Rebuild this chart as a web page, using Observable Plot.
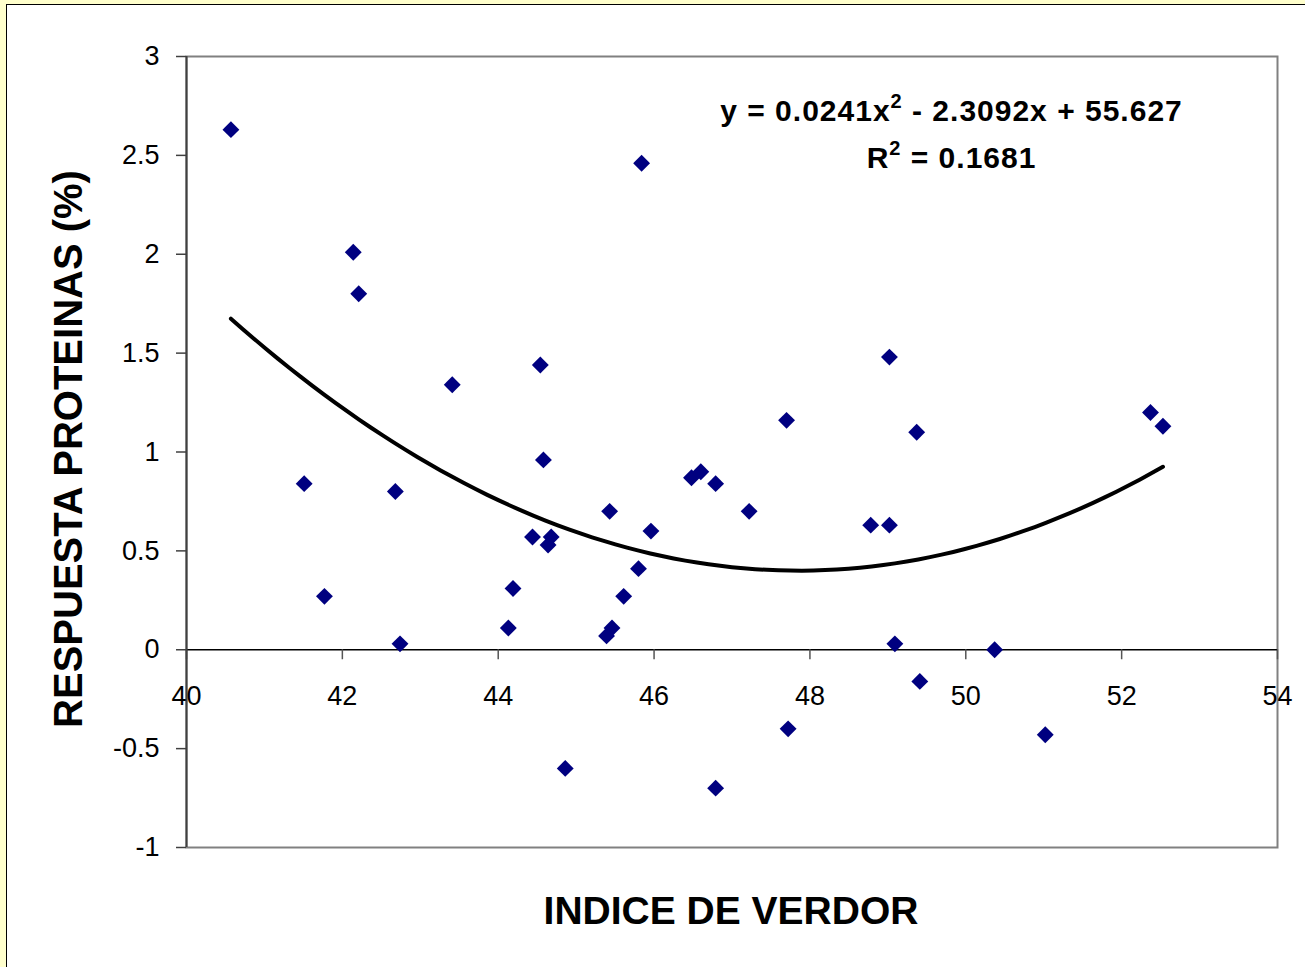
<!DOCTYPE html>
<html>
<head>
<meta charset="utf-8">
<script src="https://cdn.jsdelivr.net/npm/d3@7"></script>
<script src="https://cdn.jsdelivr.net/npm/@observablehq/plot@0.6"></script>
<style>
  html, body { margin: 0; padding: 0; background: #ffffcc; }
  #chart {
    position: absolute; left: 6px; top: 4px;
    width: 1299px; height: 963px;
    background: #ffffff;
    border-left: 1px solid #000; border-top: 1px solid #000;
  }
  #chart svg { display: block; }
</style>
</head>
<body>
<div id="chart"></div>
<script>
// Índice de verdor (x) vs. respuesta en proteínas (%) (y)
const indice = [40.57, 41.51, 41.77, 42.14, 42.21, 42.68, 42.74, 43.41, 44.13, 44.19,
                44.44, 44.54, 44.58, 44.64, 44.68, 44.86, 45.39, 45.43, 45.46, 45.61,
                45.80, 45.84, 45.96, 46.48, 46.60, 46.79, 46.79, 47.22, 47.70, 47.72,
                48.78, 49.02, 49.02, 49.09, 49.37, 49.41, 50.37, 51.02, 52.37, 52.53];
const respuesta = [2.63, 0.84, 0.27, 2.01, 1.80, 0.80, 0.03, 1.34, 0.11, 0.31,
                   0.57, 1.44, 0.96, 0.53, 0.57, -0.60, 0.07, 0.70, 0.11, 0.27,
                   0.41, 2.46, 0.60, 0.87, 0.90, 0.84, -0.70, 0.70, 1.16, -0.40,
                   0.63, 1.48, 0.63, 0.03, 1.10, -0.16, 0.00, -0.43, 1.20, 1.13];

const xTicks = [40, 42, 44, 46, 48, 50, 52, 54];
const yTicks = [-1, -0.5, 0, 0.5, 1, 1.5, 2, 2.5, 3];
const yTickLabels = ["-1", "-0.5", "0", "0.5", "1", "1.5", "2", "2.5", "3"];

const xTitle = "INDICE DE VERDOR";
const yTitle = "RESPUESTA PROTEINAS (%)";
// Trend-line annotation: each line split into [before, superscript, after]
const eqParts = [
  ["y = 0.0241x", "2", " - 2.3092x + 55.627"],
  ["R", "2", " = 0.1681"]
];

const points = indice.map((x, i) => ({x, y: respuesta[i]}));

// Least-squares polynomial (order 2) trend line, fitted on centred x
function quadFit(xs, ys) {
  const mx = d3.mean(xs);
  const s = [0, 0, 0, 0, 0], t = [0, 0, 0];
  xs.forEach((x, i) => {
    const u = x - mx;
    let p = 1;
    for (let k = 0; k < 5; k++) { s[k] += p; if (k < 3) t[k] += ys[i] * p; p *= u; }
  });
  const A = [[s[0], s[1], s[2], t[0]], [s[1], s[2], s[3], t[1]], [s[2], s[3], s[4], t[2]]];
  for (let c = 0; c < 3; c++) {
    for (let r = c + 1; r < 3; r++) {
      const f = A[r][c] / A[c][c];
      for (let k = c; k < 4; k++) A[r][k] -= f * A[c][k];
    }
  }
  const b = [0, 0, 0];
  for (let r = 2; r >= 0; r--) {
    let v = A[r][3];
    for (let k = r + 1; k < 3; k++) v -= A[r][k] * b[k];
    b[r] = v / A[r][r];
  }
  return x => { const u = x - mx; return b[0] + b[1] * u + b[2] * u * u; };
}
const trend = quadFit(indice, respuesta);
const [xMin, xMax] = d3.extent(indice);
const trendPts = d3.range(0, 81).map(i => {
  const x = xMin + (xMax - xMin) * i / 80;
  return {x, y: trend(x)};
});

const font = "'Liberation Sans', Arial, Helvetica, sans-serif";

// One text mark per equation line, so each gets its own baseline offset
const eqStyle = {
  frameAnchor: "top-right",
  dx: -326,
  textAnchor: "middle",
  lineAnchor: "bottom",
  fontSize: 30,
  fontWeight: "bold",
  fill: "#000",
  ariaDescription: "equation"
};

const plot = Plot.plot({
  width: 1298,
  height: 962,
  marginLeft: 179,
  marginRight: 28,
  marginTop: 51,
  marginBottom: 120,
  style: {fontFamily: font, background: "#ffffff", color: "#000", overflow: "visible"},
  x: {type: "linear", domain: [40, 54], axis: null},
  y: {type: "linear", domain: [-1, 3]},
  marks: [
    Plot.frame({stroke: "#808080", strokeWidth: 2}),
    Plot.ruleY([0], {stroke: "#000", strokeWidth: 1.5}),
    Plot.ruleX(xTicks, {x: d => d, y1: 0, y2: 0, insetBottom: -10, stroke: "#555", strokeWidth: 1.5}),
    Plot.ruleX([40], {stroke: "#404040", strokeWidth: 2}),
    Plot.axisY({
      ticks: yTicks,
      tickFormat: d => yTickLabels[yTicks.indexOf(d)],
      tickSize: 10,
      tickPadding: 17,
      fontSize: 27,
      stroke: "#404040",
      strokeWidth: 1.5,
      fill: "#000",
      label: null
    }),
    Plot.text(xTicks, {x: d => d, y: 0, text: d => String(d), dy: 55, lineAnchor: "bottom", fontSize: 27, fill: "#000"}),
    Plot.dot(points, {x: "x", y: "y", symbol: "diamond2", r: 7.6, fill: "#000080", stroke: null}),
    Plot.line(trendPts, {x: "x", y: "y", stroke: "#000", strokeWidth: 4, strokeLinejoin: "round"}),
    Plot.text([xTitle], {frameAnchor: "bottom", dx: -1, dy: 76, textAnchor: "middle", lineAnchor: "bottom", fontSize: 39, fontWeight: "bold", fill: "#000"}),
    Plot.text([yTitle], {frameAnchor: "left", rotate: -90, dx: -105, dy: -3, textAnchor: "middle", lineAnchor: "bottom", fontSize: 40, fontWeight: "bold", fill: "#000"}),
    Plot.text([eqParts[0].join("")], {...eqStyle, dy: 64}),
    Plot.text([eqParts[1].join("")], {...eqStyle, dy: 111})
  ]
});

document.getElementById("chart").appendChild(plot);

// Superscript "2" in the trend-line equation
d3.select(plot).selectAll('g[aria-description="equation"] text').each(function (d, i) {
  const parts = eqParts[i];
  const t = d3.select(this)
    .style("white-space", "pre")
    .style("letter-spacing", "1px")
    .text(null);
  t.append("tspan").text(parts[0]);
  t.append("tspan").attr("dy", -13).attr("font-size", 20).text(parts[1]);
  t.append("tspan").attr("dy", 13).text(parts[2]);
});
</script>
</body>
</html>
